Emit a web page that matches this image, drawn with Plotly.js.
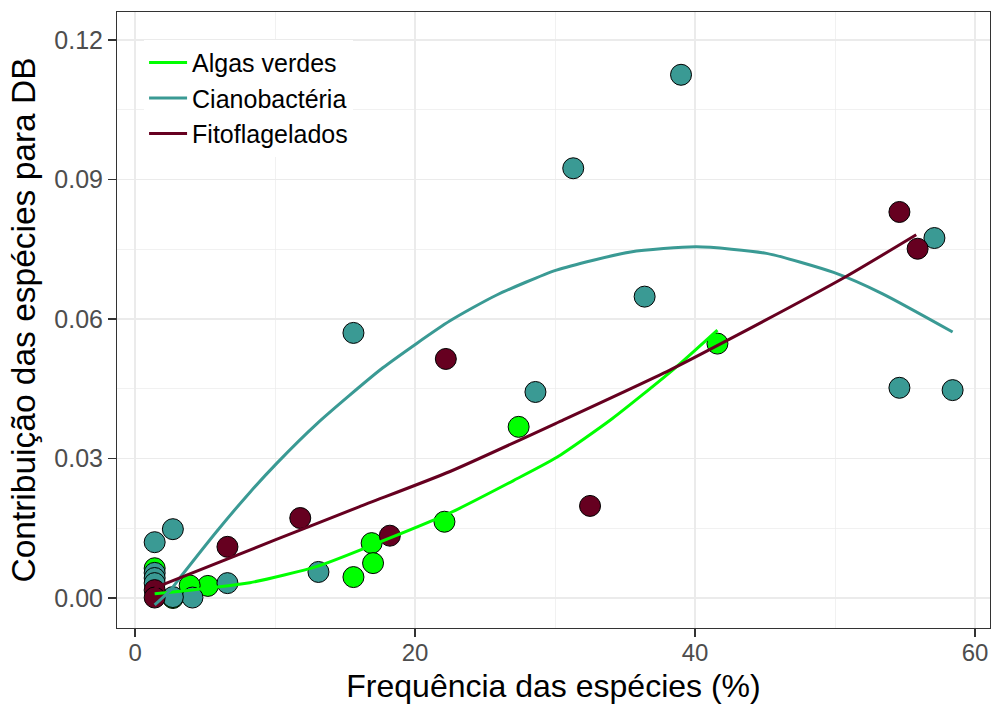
<!DOCTYPE html>
<html>
<head>
<meta charset="utf-8">
<script src="https://cdn.plot.ly/plotly-3.0.1.min.js"></script>
<style>html,body{margin:0;padding:0;background:#fff;}#chart{width:992px;height:704px;}</style>
</head>
<body>
<div id="chart"></div>
<script>
// Scatter points
const algasX = [41.6, 27.4, 22.1, 16.9, 17.0, 15.6, 5.2, 3.9, 1.4, 2.7];
const algasY = [0.0547, 0.0368, 0.0164, 0.0118, 0.0075, 0.0045, 0.0026, 0.0027, 0.0064, 0.0];
const cianoX = [39.0, 31.3, 57.1, 36.4, 15.6, 28.6, 54.6, 58.4, 13.1, 1.4, 2.7, 6.6, 4.1, 2.7, 1.4, 1.4, 1.4];
const cianoY = [0.1125, 0.0924, 0.0774, 0.0648, 0.0570, 0.0443, 0.0452, 0.0447, 0.0056, 0.0120, 0.0148, 0.0032, 0.0001, 0.0002, 0.0054, 0.0043, 0.0032];
const fitoX = [54.6, 55.9, 22.2, 32.5, 11.8, 18.2, 6.6, 1.4, 1.4];
const fitoY = [0.0830, 0.0751, 0.0514, 0.0198, 0.0172, 0.0134, 0.0110, 0.0017, 0.0001];

// Fitted curves
const algasFitX = [1.4, 8.2, 13.0, 16.8, 22.5, 27.0, 30.1, 34.1, 38.4, 41.6];
const algasFitY = [0.0009, 0.0033, 0.0068, 0.0112, 0.0183, 0.0252, 0.0302, 0.0386, 0.0490, 0.0576];
const cianoFitX = [1.4, 2.5, 3.4, 5.8, 8.2, 10.1, 13.0, 17.7, 22.5, 25.8, 30.1, 35.4, 40.1, 45.1, 49.9, 53.4, 58.4];
const cianoFitY = [-0.0015, 0.0016, 0.0051, 0.0142, 0.0227, 0.0289, 0.0375, 0.0495, 0.0596, 0.0651, 0.0705, 0.0744, 0.0755, 0.0741, 0.0700, 0.0654, 0.0572];
const fitoFitX = [1.4, 10.1, 16.0, 22.5, 30.6, 38.2, 42.5, 50.6, 55.8];
const fitoFitY = [0.0022, 0.0126, 0.0196, 0.0272, 0.0383, 0.0490, 0.0557, 0.0688, 0.0781];

const seriesNames = ["Algas verdes", "Cianobactéria", "Fitoflagelados"];
const colors = ["#00FF00", "#3A9A94", "#660020"];

const pts = [[algasX, algasY], [cianoX, cianoY], [fitoX, fitoY]];
const fits = [[algasFitX, algasFitY], [cianoFitX, cianoFitY], [fitoFitX, fitoFitY]];

const traces = [];
pts.forEach((p, i) => {
  traces.push({
    x: p[0], y: p[1], type: "scatter", mode: "markers", name: seriesNames[i],
    showlegend: false, hoverinfo: "skip",
    marker: {size: 21, color: colors[i], line: {color: "#000000", width: 1}}
  });
});
fits.forEach((f, i) => {
  traces.push({
    x: f[0], y: f[1], type: "scatter", mode: "lines", name: seriesNames[i],
    line: {color: colors[i], width: 3, shape: "spline", smoothing: 0.6}
  });
});

const layout = {
  width: 992, height: 704,
  margin: {l: 117, r: 2, t: 12, b: 76},
  paper_bgcolor: "#ffffff", plot_bgcolor: "#ffffff",
  font: {family: "Liberation Sans, Arial, sans-serif", color: "#000"},
  showlegend: true,
  legend: {
    x: 0.031, y: 0.955, xanchor: "left", yanchor: "top",
    bgcolor: "#ffffff", font: {size: 25, color: "#000"},
    tracegroupgap: 0, itemwidth: 38
  },
  xaxis: {
    range: [-1.29, 61.07], tickvals: [0, 20, 40, 60], ticktext: ["0", "20", "40", "60"],
    showgrid: true, gridcolor: "#EBEBEB", gridwidth: 1.4,
    minor: {tickvals: [10, 30, 50], showgrid: true, gridcolor: "#EBEBEB", gridwidth: 0.7, ticks: ""},
    zeroline: false, showline: true, mirror: true, linecolor: "#333333", linewidth: 1,
    ticks: "outside", ticklen: 8, tickcolor: "#333333", tickwidth: 1.2,
    tickfont: {size: 24, color: "#4D4D4D"}, ticklabelstandoff: -5,
    title: {text: "Frequência das espécies (%)", font: {size: 32, color: "#000"}, standoff: 12}
  },
  yaxis: {
    range: [-0.00645, 0.126], tickvals: [0, 0.03, 0.06, 0.09, 0.12],
    ticktext: ["0.00", "0.03", "0.06", "0.09", "0.12"],
    showgrid: true, gridcolor: "#EBEBEB", gridwidth: 1.4,
    minor: {tickvals: [0.015, 0.045, 0.075, 0.105], showgrid: true, gridcolor: "#EBEBEB", gridwidth: 0.7, ticks: ""},
    zeroline: false, showline: true, mirror: true, linecolor: "#333333", linewidth: 1,
    ticks: "outside", ticklen: 8, tickcolor: "#333333", tickwidth: 1.2,
    tickfont: {size: 25, color: "#4D4D4D"},
    title: {text: "Contribuição das espécies para DB", font: {size: 33.5, color: "#000"}, standoff: 8}
  }
};

Plotly.newPlot("chart", traces, layout, {displayModeBar: false, staticPlot: true});
</script>
</body>
</html>
